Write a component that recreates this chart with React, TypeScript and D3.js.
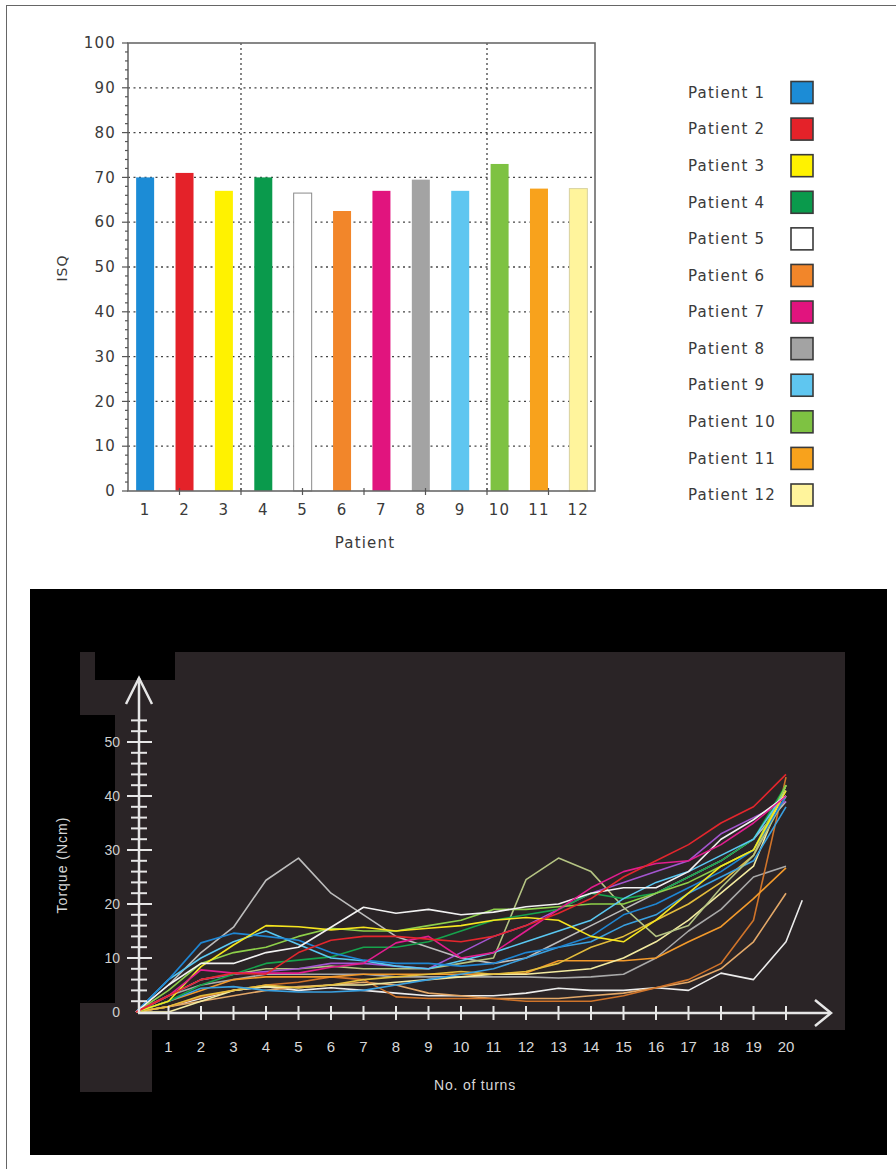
import * as d3 from 'd3'

// ---- top chart: ISQ per patient ----
const PATIENTS = ['1', '2', '3', '4', '5', '6', '7', '8', '9', '10', '11', '12']
const ISQ = [70, 71, 67, 70, 66.5, 62.5, 67, 69.5, 67, 73, 67.5, 67.5]
const BAR_COLORS = ['#1c8cd6', '#e42229', '#fff200', '#0a9a4c', '#ffffff', '#f2862a', '#e1147e', '#a3a3a3', '#5fc6f0', '#7ec242', '#f8a21c', '#fff49c']
const BAR_STROKES = [null, null, null, null, '#8a8a8a', null, null, null, null, null, null, '#d8d2a0']
const ISQ_TICKS = [0, 10, 20, 30, 40, 50, 60, 70, 80, 90, 100]

// ---- bottom chart: torque vs number of turns ----
const TURNS = [0, 1, 2, 3, 4, 5, 6, 7, 8, 9, 10, 11, 12, 13, 14, 15, 16, 17, 18, 19, 20, 20.5]
const TURN_LABELS = [1, 2, 3, 4, 5, 6, 7, 8, 9, 10, 11, 12, 13, 14, 15, 16, 17, 18, 19, 20]
const TORQUE_TICKS = [0, 10, 20, 30, 40, 50]

const T_GRAY_PEAK = [0, 5, 11, 15.7, 24.4, 28.5, 22, 18, 14, 12, 10, 9, 10, 13, 16, 19, 22, 25, 28, 32, 39]
const T_GRAY_MID = [0, 3, 5, 6, 7, 7, 7, 7, 6.5, 6.5, 6.5, 6.5, 6.5, 6.3, 6.5, 7, 10, 15, 19, 25, 27]
const T_WHITE_LOW = [0, 1, 2.5, 4, 4.7, 4, 4.5, 4, 3.5, 3, 3, 3, 3.5, 4.4, 4, 4, 4.5, 4, 7.2, 6, 13, 20.7]
const T_TAN = [0, 1, 2, 3, 4, 4.7, 5, 5.5, 5, 3.5, 3, 2.5, 2.5, 2.5, 3, 3.5, 4.5, 5.5, 8, 13, 22]
const T_BROWN = [0, 1, 2.8, 4, 5, 5.5, 6.5, 6, 2.8, 2.5, 2.5, 2.5, 2, 2, 2, 3, 4.5, 6, 9, 17, 43.5]
const T_ORANGE = [0, 2, 4, 6, 6.5, 6.5, 6.5, 7, 7, 7, 7, 7, 7.2, 9.5, 9.5, 9.5, 10, 13, 15.8, 21, 26.7]
const T_PALE_YELLOW = [0, 0, 2, 4, 4.7, 4.5, 5, 5, 5.5, 6, 6.5, 7, 7, 7.5, 8, 10, 13, 17, 22, 27, 42]
const T_GOLD = [0, 1, 3, 4, 5, 4.5, 5, 6, 6.5, 7, 7.5, 7, 7.5, 9, 12, 14, 17, 20, 24, 29, 42]
const T_BLUE_LOW = [0, 2, 4.4, 4.7, 4, 3.7, 3.7, 4, 5, 6, 7, 8, 10, 12, 13, 16, 18, 22, 25, 28, 38]
const T_OLIVE = [0, 3, 6, 7, 8, 8, 8.5, 8, 8, 8, 9, 10, 24.5, 28.5, 26, 19.4, 14, 16, 23, 29, 40]
const T_PURPLE = [0, 3, 6, 7, 7.5, 8, 9, 9, 8.5, 8, 11, 14, 16, 19, 22, 24, 26, 28, 33, 36, 39]
const T_GREEN = [0, 2, 5, 7, 9, 9.6, 10.2, 12, 12, 13, 15, 17, 18, 19, 22, 21, 22, 25, 28, 32, 42]
const T_LIGHT_GREEN = [0, 4, 9, 11, 12, 14, 15.5, 15, 15, 16, 17, 19, 19, 19.5, 20, 20, 22, 24, 27, 30, 42]
const T_CYAN = [0, 6, 10, 13, 15, 12.5, 10, 9.5, 8.5, 8, 9.5, 11, 13, 15, 17, 21, 24, 26, 29, 32, 41]
const T_BLUE = [0, 6, 12.8, 14.6, 14, 13.3, 11, 9.6, 9, 9, 8.5, 9, 11, 12, 14, 18, 20, 23, 26, 30, 40]
const T_YELLOW = [0, 2, 8.4, 12.4, 16, 15.8, 15.2, 15.7, 15, 15.5, 16, 17, 17.5, 17, 14, 13, 17, 22, 27, 30, 41]
const T_WHITE_HI = [0, 5, 9, 9, 11, 12, 15.7, 19.4, 18.3, 19, 18, 18.5, 19.5, 20, 22, 23, 23, 26, 32, 35.6, 40]
const T_MAGENTA = [0, 3, 7.8, 7.2, 7.2, 7.2, 8.3, 9, 12.8, 14, 10, 11, 15, 19, 23, 26, 27.5, 28, 31, 35, 40]
const T_RED = [0, 3, 6, 7.2, 7, 11, 13.3, 14, 14, 13.5, 13, 14, 16, 18.3, 21, 25, 28, 31, 35, 38, 44]

const SERIES: { color: string; values: number[] }[] = [
  { color: '#bdbdbd', values: T_GRAY_PEAK },
  { color: '#a9a9a9', values: T_GRAY_MID },
  { color: '#ececec', values: T_WHITE_LOW },
  { color: '#e3a868', values: T_TAN },
  { color: '#d0742a', values: T_BROWN },
  { color: '#f39a2b', values: T_ORANGE },
  { color: '#f3eba0', values: T_PALE_YELLOW },
  { color: '#e4bd3c', values: T_GOLD },
  { color: '#3aa0e0', values: T_BLUE_LOW },
  { color: '#b5c483', values: T_OLIVE },
  { color: '#a455d0', values: T_PURPLE },
  { color: '#16a34c', values: T_GREEN },
  { color: '#8ed04a', values: T_LIGHT_GREEN },
  { color: '#5ac8f2', values: T_CYAN },
  { color: '#1f86d3', values: T_BLUE },
  { color: '#f5e51f', values: T_YELLOW },
  { color: '#f2f2f2', values: T_WHITE_HI },
  { color: '#e21d8f', values: T_MAGENTA },
  { color: '#e3262d', values: T_RED },
]

const TOP_FONT = "'DejaVu Sans', Verdana, sans-serif"
const BOT_FONT = "'Liberation Sans', Arial, sans-serif"

export default function App() {
  // top chart scales
  const yI = d3.scaleLinear().domain([0, 100]).range([491, 43])
  const xI = d3.scaleBand<string>().domain(PATIENTS).range([125.5, 598]).paddingInner(0.543).paddingOuter(0.27)
  const xGrid = d3.scaleLinear().domain([0, 1]).range([241, 487])
  const minorI = d3.range(0, 101, 2)
  const legendY = d3.scalePoint<string>().domain(PATIENTS).range([92.5, 495])

  // bottom chart scales
  const xT = d3.scaleLinear().domain([0, 20]).range([136, 786])
  const yT = d3.scaleLinear().domain([0, 50]).range([1012, 742])
  const torqueMinor = d3.range(2, 55, 2)
  const line = d3
    .line<number | undefined>()
    .defined((d) => d != null)
    .x((d, i) => xT(TURNS[i]))
    .y((d) => yT(d as number))

  const axisCol = '#e6e6e6'
  const panel = '#2a2426'

  return (
    <svg width={896} height={1169} style={{ position: 'absolute', left: 0, top: 0, background: '#fff' }}>
      {/* outer frame */}
      <line x1={6} y1={5.5} x2={896} y2={5.5} stroke="#666" strokeWidth={1} />
      <line x1={6.5} y1={5} x2={6.5} y2={1169} stroke="#666" strokeWidth={1} />

      {/* ---------- top chart ---------- */}
      <g>
        {ISQ_TICKS.filter((t) => t > 0 && t < 100).map((t) => (
          <line key={'g' + t} x1={128} x2={595} y1={yI(t)} y2={yI(t)} stroke="#444" strokeWidth={1.3} strokeDasharray="2,3.5" />
        ))}
        {[0, 1].map((v) => (
          <line key={'vg' + v} x1={xGrid(v)} x2={xGrid(v)} y1={43} y2={491} stroke="#444" strokeWidth={1.3} strokeDasharray="2,3" />
        ))}
        {PATIENTS.map((p, i) => (
          <rect
            key={'b' + p}
            x={xI(p)}
            y={yI(ISQ[i])}
            width={xI.bandwidth()}
            height={yI(0) - yI(ISQ[i])}
            fill={BAR_COLORS[i]}
            stroke={BAR_STROKES[i] || 'none'}
            strokeWidth={1}
          />
        ))}
        <rect x={128} y={43} width={467} height={448} fill="none" stroke="#6a6a6a" strokeWidth={1.6} />
        {minorI.map((t) => (
          <line key={'mt' + t} x1={t % 10 === 0 ? 122 : 125} x2={128} y1={yI(t)} y2={yI(t)} stroke="#555" strokeWidth={1.2} />
        ))}
        {d3.range(-1, 6).map((k) => (
          <line key={'xt' + k} x1={xGrid(k * 0.25)} x2={xGrid(k * 0.25)} y1={488} y2={495} stroke="#555" strokeWidth={1.2} />
        ))}
        {ISQ_TICKS.map((t) => (
          <text key={'yl' + t} x={116} y={yI(t)} dy="0.35em" textAnchor="end" fontSize={15} letterSpacing={1.2} fill="#3a3a3a" fontFamily={TOP_FONT}>
            {t}
          </text>
        ))}
        {PATIENTS.map((p) => (
          <text key={'xl' + p} x={(xI(p) as number) + xI.bandwidth() / 2} y={510} dy="0.35em" textAnchor="middle" fontSize={15} letterSpacing={1.2} fill="#3a3a3a" fontFamily={TOP_FONT}>
            {p}
          </text>
        ))}
        <text x={365} y={543} dy="0.35em" textAnchor="middle" fontSize={15} letterSpacing={1.2} fill="#3a3a3a" fontFamily={TOP_FONT}>
          Patient
        </text>
        <text transform="translate(62,268) rotate(-90)" dy="0.35em" textAnchor="middle" fontSize={14} letterSpacing={1} fill="#3a3a3a" fontFamily={TOP_FONT}>
          ISQ
        </text>

        {/* legend */}
        {PATIENTS.map((p, i) => (
          <g key={'lg' + p} transform={`translate(0,${legendY(p)})`}>
            <text x={688} y={0} dy="0.35em" fontSize={15} letterSpacing={1.2} fill="#3a3a3a" fontFamily={TOP_FONT}>
              {'Patient ' + p}
            </text>
            <rect x={791} y={-11} width={22} height={22} fill={BAR_COLORS[i]} stroke="#3a3a3a" strokeWidth={1.6} />
          </g>
        ))}
      </g>

      {/* ---------- bottom chart ---------- */}
      <g>
        <rect x={30} y={589} width={857} height={566} fill="#000" />
        <rect x={175} y={652} width={670} height={29} fill={panel} />
        <rect x={115} y={680} width={730} height={350} fill={panel} />
        <rect x={80} y={652} width={15} height={29} fill={panel} />
        <rect x={80} y={680} width={36} height={35} fill={panel} />
        <rect x={80} y={1003} width={72} height={89} fill={panel} />

        {SERIES.map((s, i) => (
          <path key={'s' + i} d={line(s.values) || ''} fill="none" stroke={s.color} strokeWidth={1.6} strokeLinejoin="round" />
        ))}

        {/* y axis with arrow */}
        <line x1={139} x2={139} y1={1013} y2={678} stroke={axisCol} strokeWidth={2.5} />
        <polyline points="126,704 139,678 152,704" fill="none" stroke={axisCol} strokeWidth={2.5} />
        {torqueMinor.map((t) => (
          <line
            key={'yt' + t}
            x1={t % 10 === 0 ? 127 : 131}
            x2={t % 10 === 0 ? 152 : 147}
            y1={yT(t)}
            y2={yT(t)}
            stroke={axisCol}
            strokeWidth={2}
          />
        ))}
        {TORQUE_TICKS.map((t) => (
          <text key={'tl' + t} x={120} y={yT(t)} dy="0.35em" textAnchor="end" fontSize={14} fill="#cfcfcf" fontFamily={BOT_FONT}>
            {t}
          </text>
        ))}

        {/* x axis with arrow */}
        <line x1={138} x2={830} y1={1013} y2={1013} stroke={axisCol} strokeWidth={2.5} />
        <polyline points="815,1000 831,1013 815,1026" fill="none" stroke={axisCol} strokeWidth={2.5} />
        {TURN_LABELS.map((t) => (
          <line key={'xt' + t} x1={xT(t)} x2={xT(t)} y1={1006} y2={1020} stroke={axisCol} strokeWidth={2} />
        ))}
        {TURN_LABELS.map((t) => (
          <text key={'xtl' + t} x={xT(t)} y={1047} dy="0.35em" textAnchor="middle" fontSize={15} fill="#d8d8d8" fontFamily={BOT_FONT}>
            {t}
          </text>
        ))}
        <text x={475} y={1085} dy="0.35em" textAnchor="middle" fontSize={14} letterSpacing={0.8} fill="#d8d8d8" fontFamily={BOT_FONT}>
          No. of turns
        </text>
        <text transform="translate(62,865) rotate(-90)" dy="0.35em" textAnchor="middle" fontSize={14} letterSpacing={1} fill="#d8d8d8" fontFamily={BOT_FONT}>
          Torque (Ncm)
        </text>
      </g>
    </svg>
  )
}
